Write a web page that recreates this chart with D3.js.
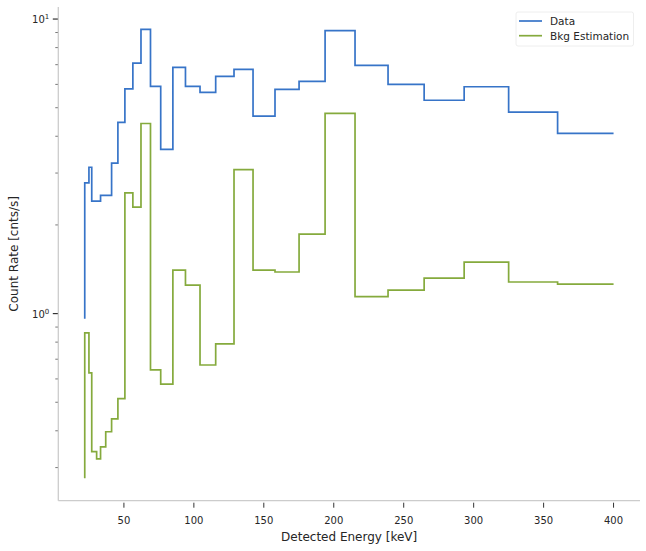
<!DOCTYPE html>
<html>
<head>
<meta charset="utf-8">
<script src="https://cdn.jsdelivr.net/npm/d3@7"></script>
<style>
  body { margin: 0; background: #fff; }
  text { font-family: "DejaVu Sans", sans-serif; fill: #262626; }
</style>
</head>
<body>
<div id="chart"></div>
<script>
// step points: energies (keV), first value is the starting point of the step
const energies = [22, 25, 27, 30.5, 33.3, 37, 41.2, 45.7, 50.7, 56.4, 62.2, 69, 76.3, 85, 94,
    104.4, 115.6, 128.7, 142.3, 158, 175.2, 193.8, 215.2, 238.8, 264.6, 293.2, 325, 360, 400];
const dataRate = [0.96, 2.78, 3.14, 2.41, 2.41, 2.52, 2.52, 3.24, 4.46, 5.79, 7.09, 9.22, 5.91, 3.61,
    6.85, 5.91, 5.64, 6.39, 6.75, 4.68, 5.77, 6.14, 9.13, 6.96, 6.00, 5.30, 5.89, 4.83, 4.09];
const bkgRate = [0.276, 0.860, 0.629, 0.340, 0.321, 0.353, 0.397, 0.439, 0.514, 2.57, 2.30, 4.42, 0.644,
    0.576, 1.405, 1.250, 0.669, 0.789, 3.08, 1.405, 1.384, 1.861, 4.78, 1.142, 1.202, 1.320, 1.496, 1.280, 1.260];
const seriesNames = ['Data', 'Bkg Estimation'];
const xTicks = [50, 100, 150, 200, 250, 300, 350, 400];
const yTicks = [1, 10];

const width = 646;
const height = 551;
const plotLeft = 58.3, plotRight = 640, plotTop = 7, plotBottom = 500.7;
const colors = ['#3774c8', '#85aa3d'];

const svg = d3.select("#chart")
    .append("svg")
    .attr("width", width)
    .attr("height", height);

// matplotlib style 5% margins
const xMin = d3.min(energies), xMax = d3.max(energies);
const xPad = (xMax - xMin) * 0.05;
const x = d3.scaleLinear()
    .domain([xMin - xPad, xMax + xPad])
    .range([plotLeft, plotRight]);

const allVals = dataRate.concat(bkgRate);
const lMin = Math.log10(d3.min(allVals)), lMax = Math.log10(d3.max(allVals));
const lPad = (lMax - lMin) * 0.05;
const y = d3.scaleLog()
    .domain([Math.pow(10, lMin - lPad), Math.pow(10, lMax + lPad)])
    .range([plotBottom, plotTop]);

// spines
svg.append("line")
    .attr("x1", plotLeft).attr("x2", plotLeft)
    .attr("y1", plotTop).attr("y2", plotBottom)
    .attr("stroke", "#cccccc").attr("stroke-width", 1.3);
svg.append("line")
    .attr("x1", plotLeft).attr("x2", plotRight)
    .attr("y1", plotBottom).attr("y2", plotBottom)
    .attr("stroke", "#cccccc").attr("stroke-width", 1.3);

// x ticks
xTicks.forEach(t => {
    svg.append("line")
        .attr("x1", x(t)).attr("x2", x(t))
        .attr("y1", plotBottom + 2).attr("y2", plotBottom + 7)
        .attr("stroke", "#333").attr("stroke-width", 1);
    svg.append("text")
        .attr("x", x(t)).attr("y", plotBottom + 23)
        .attr("text-anchor", "middle")
        .style("font-size", "10px")
        .text(t);
});

// y minor ticks
const [d0, d1] = y.domain();
for (let e = Math.floor(Math.log10(d0)); e <= Math.ceil(Math.log10(d1)); e++) {
    for (let m = 2; m <= 9; m++) {
        const v = m * Math.pow(10, e);
        if (v < d0 || v > d1) continue;
        svg.append("line")
            .attr("x1", plotLeft - 3).attr("x2", plotLeft - 0.5)
            .attr("y1", y(v)).attr("y2", y(v))
            .attr("stroke", "#555").attr("stroke-width", 0.8);
    }
}

// y major ticks
yTicks.forEach(t => {
    svg.append("line")
        .attr("x1", plotLeft - 5.5).attr("x2", plotLeft - 0.5)
        .attr("y1", y(t)).attr("y2", y(t))
        .attr("stroke", "#333").attr("stroke-width", 1.2);
    const lbl = svg.append("text")
        .attr("x", plotLeft - 9).attr("y", y(t) + 4)
        .attr("text-anchor", "end")
        .style("font-size", "10px");
    lbl.append("tspan").text("10");
    lbl.append("tspan")
        .attr("dy", -4)
        .style("font-size", "7px")
        .text(Math.round(Math.log10(t)));
});

// axis titles
svg.append("text")
    .attr("x", (plotLeft + plotRight) / 2).attr("y", 541)
    .attr("text-anchor", "middle")
    .style("font-size", "12px")
    .text("Detected Energy [keV]");
svg.append("text")
    .attr("transform", `translate(18, ${(plotTop + plotBottom) / 2}) rotate(-90)`)
    .attr("text-anchor", "middle")
    .style("font-size", "12px")
    .text("Count Rate [cnts/s]");

// step lines
const line = d3.line()
    .x(d => x(d[0]))
    .y(d => y(d[1]))
    .curve(d3.curveStepBefore);

[dataRate, bkgRate].forEach((vals, i) => {
    svg.append("path")
        .datum(energies.map((e, j) => [e, vals[j]]))
        .attr("d", line)
        .attr("fill", "none")
        .attr("stroke", colors[i])
        .attr("stroke-width", 1.7);
});

// legend
const legend = svg.append("g").attr("transform", "translate(516, 12)");
legend.append("rect")
    .attr("width", 117.5).attr("height", 34)
    .attr("rx", 2)
    .attr("fill", "white").attr("fill-opacity", 0.8)
    .attr("stroke", "#eeeeee").attr("stroke-width", 1);
seriesNames.forEach((name, i) => {
    const row = legend.append("g").attr("transform", `translate(0, ${9 + i * 14.7})`);
    row.append("line")
        .attr("x1", 3).attr("x2", 26)
        .attr("stroke", colors[i]).attr("stroke-width", 1.7);
    row.append("text")
        .attr("x", 34).attr("y", 4)
        .style("font-size", "10.5px")
        .text(name);
});
</script>
</body>
</html>
